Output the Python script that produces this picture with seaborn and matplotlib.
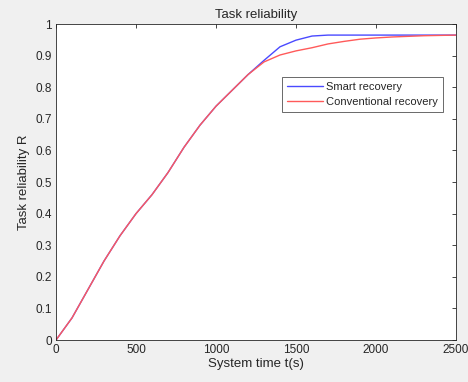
import matplotlib
matplotlib.use("Agg")
import matplotlib.pyplot as plt
import seaborn as sns
import pandas as pd

t = [0, 100, 200, 300, 400, 500, 600, 700, 800, 900, 1000, 1100, 1200, 1300,
     1400, 1500, 1600, 1700, 1800, 1900, 2000, 2100, 2200, 2300, 2400, 2500]
smart = [0.0, 0.07, 0.16, 0.25, 0.33, 0.40, 0.46, 0.53, 0.61, 0.68, 0.74, 0.79,
         0.84, 0.885, 0.928, 0.949, 0.962, 0.965, 0.965, 0.965, 0.965, 0.965,
         0.965, 0.965, 0.965, 0.965]
conventional = [0.0, 0.07, 0.16, 0.25, 0.33, 0.40, 0.46, 0.53, 0.61, 0.68, 0.74,
                0.79, 0.84, 0.88, 0.902, 0.915, 0.925, 0.937, 0.945, 0.952, 0.956,
                0.959, 0.961, 0.963, 0.964, 0.965]
series_names = ["Smart recovery", "Conventional recovery"]
xticks = [0, 500, 1000, 1500, 2000, 2500]
yticks = [0, 0.1, 0.2, 0.3, 0.4, 0.5, 0.6, 0.7, 0.8, 0.9, 1]

df = pd.concat([
    pd.DataFrame({"t": t, "R": smart, "series": series_names[0]}),
    pd.DataFrame({"t": t, "R": conventional, "series": series_names[1]}),
])

sns.set_style("white")
plt.rcParams['font.family'] = ['Liberation Sans', 'DejaVu Sans']

fig = plt.figure(figsize=(4.68, 3.82), dpi=100, facecolor="#f0f0f0")
ax = fig.add_axes([0.1197, 0.1099, 0.8547, 0.8272])
ax.set_facecolor("white")

sns.lineplot(data=df, x="t", y="R", hue="series", ax=ax,
             palette={series_names[0]: "#4a4aff", series_names[1]: "#ff5a5a"},
             linewidth=1.0)

ax.set_xlim(0, 2500)
ax.set_ylim(0, 1)
ax.set_xticks(xticks)
ax.set_xticklabels([str(v) for v in xticks])
ax.set_yticks(yticks)
ax.set_yticklabels(["0", "0.1", "0.2", "0.3", "0.4", "0.5", "0.6", "0.7", "0.8", "0.9", "1"])
ax.tick_params(direction="in", length=3, width=0.6, top=True, right=True,
               labelsize=8.5, colors="#262626", pad=3)
for s in ax.spines.values():
    s.set_color("#262626")
    s.set_linewidth(0.6)

ax.set_xlabel("System time t(s)", fontsize=9.5, color="#262626", labelpad=1)
ax.set_ylabel("Task reliability R", fontsize=9.5, color="#262626", labelpad=4)
ax.set_title("Task reliability", fontsize=9.5, color="#262626", pad=4)

leg = ax.legend(loc="upper right", bbox_to_anchor=(0.968, 0.832), fontsize=8,
                frameon=True, fancybox=False, edgecolor="#262626",
                borderpad=0.45, labelspacing=0.45, handlelength=3.2,
                handletextpad=0.3, borderaxespad=0)
leg.get_frame().set_linewidth(0.6)

fig.savefig("out.png", dpi=100, facecolor=fig.get_facecolor())
